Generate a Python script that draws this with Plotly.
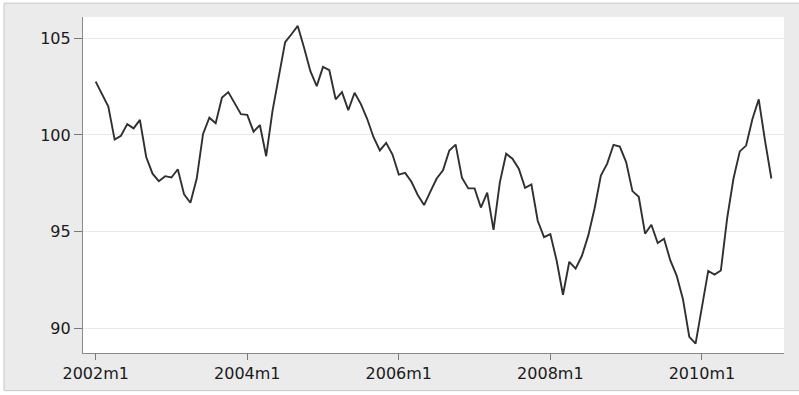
import plotly.graph_objects as go

# Monthly index, 2002m1 .. 2010m12
years = list(range(2002, 2011))
months = [f"{y}m{m}" for y in years for m in range(1, 13)]

values = [
    102.75, 102.10, 101.47, 99.76, 99.96, 100.56, 100.34, 100.78, 98.86, 98.00, 97.61, 97.87,
    97.80, 98.23, 96.93, 96.50, 97.75, 100.05, 100.89, 100.60, 101.93, 102.21, 101.67, 101.07,
    101.04, 100.17, 100.51, 98.90, 101.24, 102.95, 104.79, 105.20, 105.63, 104.50, 103.29, 102.52,
    103.51, 103.34, 101.84, 102.21, 101.28, 102.18, 101.59, 100.82, 99.88, 99.20, 99.59, 98.99,
    97.95, 98.04, 97.58, 96.90, 96.38, 97.07, 97.75, 98.17, 99.20, 99.50, 97.79, 97.24,
    97.24, 96.25, 97.02, 95.10, 97.55, 99.03, 98.77, 98.26, 97.27, 97.44, 95.57, 94.72,
    94.88, 93.50, 91.75, 93.45, 93.10, 93.76, 94.80, 96.20, 97.90, 98.52, 99.49, 99.40,
    98.60, 97.10, 96.81, 94.90, 95.36, 94.42, 94.64, 93.52, 92.74, 91.52, 89.57, 89.22,
    91.20, 92.98, 92.79, 93.00, 95.70, 97.75, 99.15, 99.45, 100.82, 101.84, 99.69, 97.75,
]

xtick_labels = ["2002m1", "2004m1", "2006m1", "2008m1", "2010m1"]
ytick_vals = [90, 95, 100, 105]

x_idx = list(range(len(values)))
xtick_pos = [months.index(lbl) for lbl in xtick_labels]

fig = go.Figure()
fig.add_trace(go.Scatter(
    x=x_idx, y=values, mode="lines",
    line=dict(color="#303030", width=1.9),
    customdata=months,
    hovertemplate="%{customdata}: %{y:.2f}<extra></extra>",
))

axis_font = dict(family="DejaVu Sans", size=16, color="#1a1a1a")

fig.update_layout(
    width=799, height=395,
    margin=dict(l=83, r=15, t=17, b=39),
    paper_bgcolor="white",
    plot_bgcolor="white",
    showlegend=False,
    xaxis=dict(
        range=[-2.01, 109.0],
        tickmode="array", tickvals=xtick_pos, ticktext=xtick_labels,
        ticks="outside", ticklen=6, tickcolor="#777777", tickwidth=1,
        showline=True, linecolor="#8a8a8a", linewidth=1.2,
        showgrid=False, zeroline=False,
        tickfont=axis_font,
    ),
    yaxis=dict(
        range=[88.74, 106.09],
        tickmode="array", tickvals=ytick_vals,
        ticks="outside", ticklen=8, tickcolor="#777777", tickwidth=1,
        showline=True, linecolor="#8a8a8a", linewidth=1.2,
        showgrid=True, gridcolor="#eaeaea", gridwidth=1,
        zeroline=False,
        tickfont=axis_font,
    ),
    shapes=[
        # grey outer panel with thin border
        dict(type="rect", xref="paper", yref="paper",
             x0=-0.1127, x1=1.03, y0=-0.112, y1=1.0413,
             fillcolor="#ebebeb", line=dict(color="#c8c8c8", width=1),
             layer="below"),
        # white plotting region
        dict(type="rect", xref="paper", yref="paper",
             x0=0, x1=1, y0=0, y1=1,
             fillcolor="white", line=dict(width=0),
             layer="below"),
    ],
)

fig.write_html("out.html")
